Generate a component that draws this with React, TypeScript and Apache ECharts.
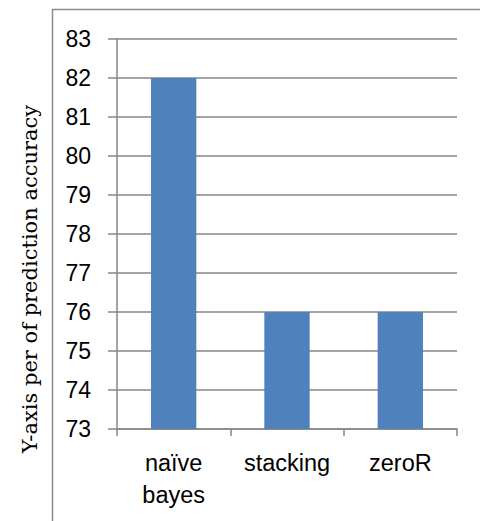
import React, { useEffect, useRef } from "react";
import * as echarts from "echarts";

const categories = ["naïve\nbayes", "stacking", "zeroR"];
const accuracy = [82, 76, 76];
const yTitle = "Y-axis per of prediction accuracy";

export default function App() {
  const ref = useRef<HTMLDivElement>(null);
  useEffect(() => {
    document.body.style.margin = "0";
    const chart = echarts.init(ref.current!, null, { renderer: "svg" });
    chart.setOption({
      animation: false,
      backgroundColor: "#ffffff",
      grid: { left: 117, right: 23, top: 39, bottom: 92 },
      graphic: [
        {
          type: "rect",
          shape: { x: 52.5, y: 9.5, width: 500, height: 600 },
          style: { fill: "none", stroke: "#8a8a8a", lineWidth: 1.5 },
          silent: true,
        },
        {
          type: "text",
          x: 30,
          y: 279,
          rotation: Math.PI / 2,
          style: {
            text: yTitle,
            font: "21px 'DejaVu Serif', 'Liberation Serif', serif",
            fill: "#000",
            align: "center",
            verticalAlign: "middle",
          },
        },
      ],
      xAxis: {
        type: "category",
        data: categories,
        boundaryGap: true,
        axisLine: { show: true, lineStyle: { color: "#868686", width: 1.5 } },
        axisTick: { show: true, length: 7, alignWithLabel: false, lineStyle: { color: "#868686", width: 1.5 } },
        axisLabel: {
          color: "#000",
          fontSize: 23.5,
          fontFamily: "'Liberation Sans', Arial, sans-serif",
          lineHeight: 32,
          margin: 18,
        },
        splitLine: { show: false },
      },
      yAxis: {
        type: "value",
        min: 73,
        max: 83,
        interval: 1,
        axisLine: { show: true, lineStyle: { color: "#868686", width: 1.5 } },
        axisTick: { show: true, inside: false, length: 9, lineStyle: { color: "#868686", width: 1.5 } },
        axisLabel: {
          color: "#000",
          fontSize: 23,
          fontFamily: "'Liberation Sans', Arial, sans-serif",
          margin: 26,
        },
        splitLine: { show: true, lineStyle: { color: "#868686", width: 1.5 } },
      },
      series: [
        {
          type: "bar",
          data: accuracy,
          barWidth: "40%",
          itemStyle: { color: "#4F81BD" },
        },
      ],
    });
    return () => chart.dispose();
  }, []);
  return <div ref={ref} style={{ width: 480, height: 521 }} />;
}
